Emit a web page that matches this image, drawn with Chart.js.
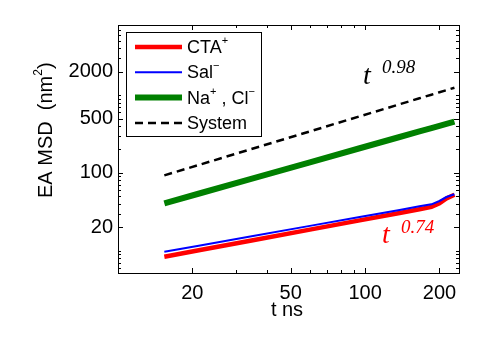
<!DOCTYPE html>
<html>
<head>
<meta charset="utf-8">
<script src="https://cdn.jsdelivr.net/npm/chart.js@4.4.1/dist/chart.umd.min.js"></script>
<style>
  html, body { margin: 0; padding: 0; background: #fff; }
  #wrap { width: 500px; height: 342px; }
</style>
</head>
<body>
<div id="wrap"><canvas id="msdChart" width="500" height="342"></canvas></div>
<script>
// time lag (ns) and ensemble-averaged MSD (nm^2)
const timeNs = [15.4, 21.5, 34.3, 59.8, 95.1, 138, 166, 185.6, 200, 213.5, 230]
const ctaMsd = [8.32, 10.17, 13.38, 18.63, 24.5, 30.5, 34.1, 36.5, 40.6, 46.8, 52.3]
const salMsd = [9.65, 11.65, 15.15, 20.8, 27.0, 33.3, 37.1, 39.4, 43.5, 48.9, 53]
const ionMsd = [40.6, 54.7, 83.2, 136.9, 207.5, 289.6, 341.8, 377.6, 404, 428, 458]
const systemMsd = [93, 128, 200.6, 342, 534, 764, 912, 1014.6, 1091, 1161, 1247]

const xTickValues = [20, 50, 100, 200]
const yTickValues = [20, 100, 500, 2000]
const xMinorTicks = [10, 30, 40, 60, 70, 80, 90]
const yMinorTicks = [6, 7, 8, 9, 10, 30, 40, 50, 60, 70, 80, 90, 200, 300, 400, 600, 700, 800, 900, 1000, 3000, 4000, 5000, 6000, 7000]

// legend text: normal / superscript pieces alternate
const legendLabels = [["CTA", "+"], ["Sal", "\u2212"], ["Na", "+", " , Cl", "\u2212"], ["System"]]

const sans = "'Liberation Sans', Arial, Helvetica, sans-serif"
const serif = "'Liberation Serif', 'Times New Roman', serif"

const toPoints = (vals) => vals.map((v, i) => ({ x: timeNs[i], y: v }))

// draws text where every 2nd piece is a superscript
function drawRich(ctx, parts, x, y, size) {
  let cx = x
  parts.forEach((p, i) => {
    const sup = i % 2 === 1
    ctx.font = (sup ? Math.round(size * 0.62) : size) + "px " + sans
    ctx.fillText(p, cx, sup ? y - size * 0.38 : y)
    cx += ctx.measureText(p).width
  })
}

const frameAndLabels = {
  id: "frameAndLabels",
  afterDraw(chart) {
    const { ctx, chartArea: a, scales } = chart
    const xs = scales.x
    const ys = scales.y
    ctx.save()
    ctx.strokeStyle = "#000"
    ctx.lineWidth = 1
    ctx.strokeRect(a.left + 0.5, a.top + 0.5, a.right - a.left, a.bottom - a.top)

    // inward ticks on all four sides
    const tickX = (v, len) => {
      const px = Math.round(xs.getPixelForValue(v)) + 0.5
      ctx.beginPath()
      ctx.moveTo(px, a.bottom); ctx.lineTo(px, a.bottom - len)
      ctx.moveTo(px, a.top); ctx.lineTo(px, a.top + len)
      ctx.stroke()
    }
    const tickY = (v, len) => {
      const py = Math.round(ys.getPixelForValue(v)) + 0.5
      ctx.beginPath()
      ctx.moveTo(a.left, py); ctx.lineTo(a.left + len, py)
      ctx.moveTo(a.right, py); ctx.lineTo(a.right - len, py)
      ctx.stroke()
    }
    xTickValues.forEach(v => tickX(v, 5))
    xMinorTicks.forEach(v => tickX(v, 3))
    yTickValues.forEach(v => tickY(v, 5))
    yMinorTicks.forEach(v => tickY(v, 3))

    // legend box
    const lx = 126, ly = 32, lw = 135, lh = 104
    ctx.fillStyle = "#fff"
    ctx.fillRect(lx, ly, lw, lh)
    ctx.strokeRect(lx + 0.5, ly + 0.5, lw, lh)
    chart.data.datasets.forEach((ds, i) => {
      const rowY = 47 + i * 25.3
      ctx.beginPath()
      ctx.strokeStyle = ds.borderColor
      ctx.lineWidth = ds.borderWidth
      ctx.setLineDash(ds.borderDash || [])
      ctx.moveTo(135, rowY); ctx.lineTo(182, rowY)
      ctx.stroke()
      ctx.setLineDash([])
      ctx.fillStyle = "#000"
      ctx.textBaseline = "middle"
      ctx.textAlign = "left"
      drawRich(ctx, legendLabels[i], 187, rowY + 1, 18)
    })

    // slope annotations
    ctx.textBaseline = "alphabetic"
    ctx.fillStyle = "#000"
    ctx.font = "italic 28px " + serif
    ctx.fillText("t", 363, 84)
    ctx.font = "italic 19px " + serif
    ctx.fillText("0.98", 382, 73)
    ctx.fillStyle = "#f00"
    ctx.font = "italic 28px " + serif
    ctx.fillText("t", 382, 243)
    ctx.font = "italic 19px " + serif
    ctx.fillText("0.74", 401, 233)

    // axis titles
    ctx.fillStyle = "#000"
    ctx.textAlign = "center"
    ctx.textBaseline = "middle"
    ctx.font = "20px " + sans
    ctx.fillText("t ns", 287, 310)

    ctx.save()
    ctx.translate(46, 198)
    ctx.rotate(-Math.PI / 2)
    ctx.textAlign = "left"
    drawRich(ctx, ["EA MSD  (nm", "2", ")"], 0, 0, 20)
    ctx.restore()

    ctx.restore()
  }
}

new Chart(document.getElementById("msdChart").getContext("2d"), {
  type: "line",
  data: {
    datasets: [
      { label: "CTA+", data: toPoints(ctaMsd), borderColor: "#ff0000", borderWidth: 4.5, order: 2 },
      { label: "Sal-", data: toPoints(salMsd), borderColor: "#0000ff", borderWidth: 2, order: 1 },
      { label: "Na+, Cl-", data: toPoints(ionMsd), borderColor: "#008000", borderWidth: 6, order: 3 },
      { label: "System", data: toPoints(systemMsd), borderColor: "#000000", borderWidth: 2.5, borderDash: [8, 5], order: 4 },
    ],
  },
  options: {
    responsive: false,
    animation: false,
    devicePixelRatio: 1,
    layout: { padding: { top: 25, right: 41, bottom: 0, left: 0 } },
    elements: { point: { radius: 0 }, line: { tension: 0, fill: false, borderCapStyle: "butt" } },
    plugins: { legend: { display: false }, tooltip: { enabled: false } },
    scales: {
      x: {
        type: "logarithmic",
        min: 10,
        max: 240,
        afterBuildTicks: (s) => { s.ticks = xTickValues.map(v => ({ value: v })) },
        afterFit: (s) => { s.height = 69 },
        grid: { display: false, drawTicks: false },
        border: { display: false },
        ticks: {
          color: "#000",
          font: { family: sans, size: 20 },
          padding: 8,
          maxRotation: 0,
          autoSkip: false,
          callback: (v) => String(v),
        },
      },
      y: {
        type: "logarithmic",
        min: 5.15,
        max: 8000,
        afterBuildTicks: (s) => { s.ticks = yTickValues.map(v => ({ value: v })) },
        afterFit: (s) => { s.width = 118 },
        grid: { display: false, drawTicks: false },
        border: { display: false },
        ticks: {
          color: "#000",
          font: { family: sans, size: 20 },
          padding: 5,
          autoSkip: false,
          callback: (v) => String(v),
        },
      },
    },
  },
  plugins: [frameAndLabels],
})
</script>
</body>
</html>
